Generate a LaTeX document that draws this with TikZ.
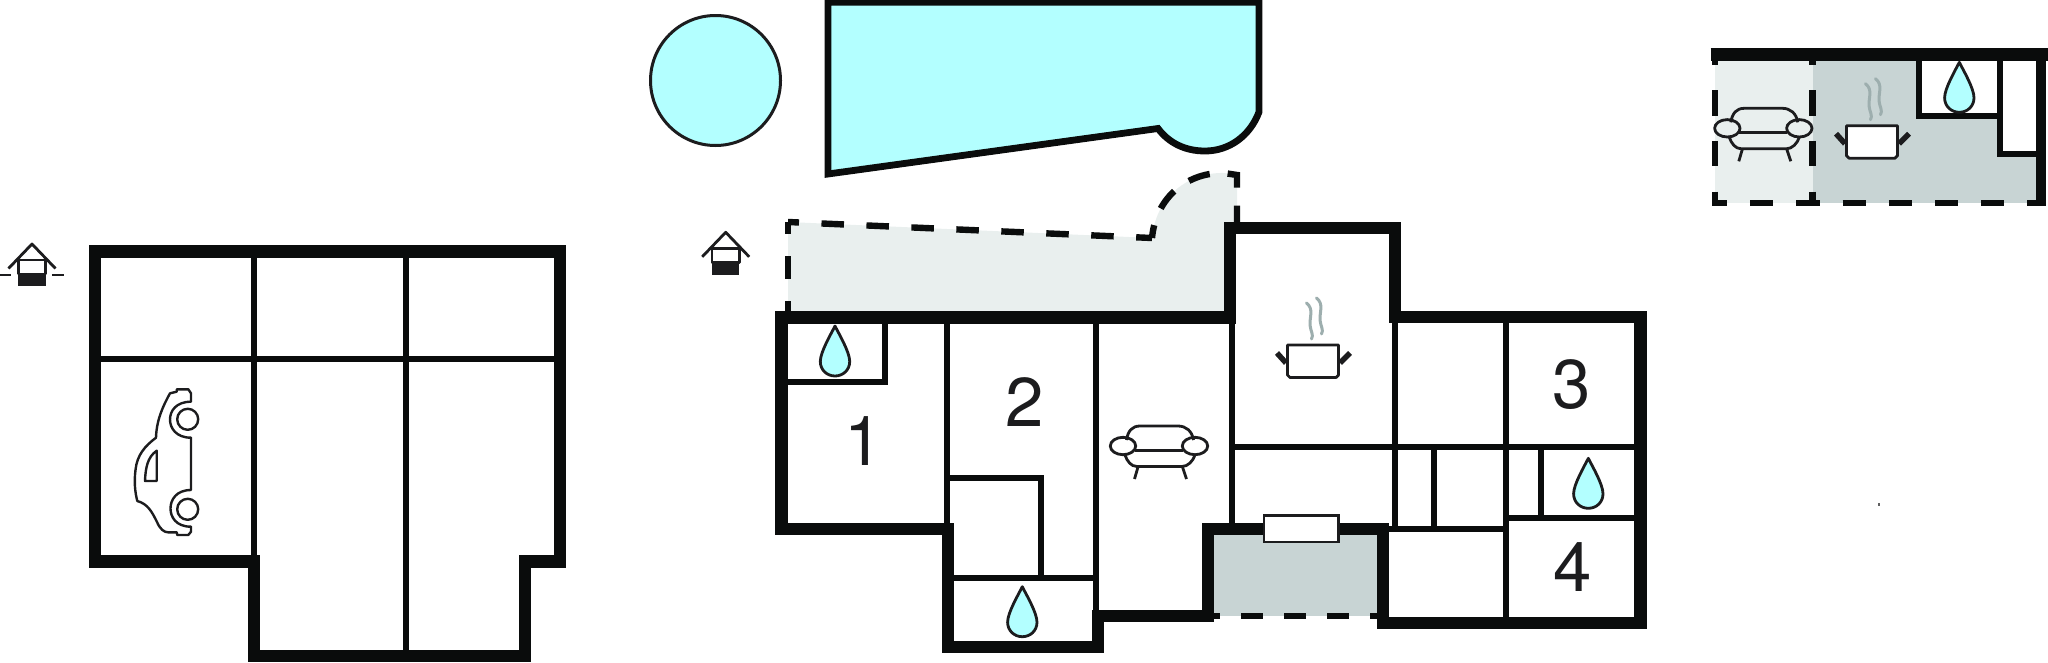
\documentclass[tikz,border=0pt]{standalone}
\usepackage{fontspec}
\setmainfont{TeX Gyre Heros}

\definecolor{inkblack}{HTML}{0A0C0C}
\definecolor{iconblack}{HTML}{1C1C1E}
\definecolor{poolblue}{HTML}{B3FFFF}
\definecolor{terracegrey}{HTML}{E9EFEE}
\definecolor{patiogrey}{HTML}{C8D4D4}
\definecolor{steamgrey}{HTML}{9DAEAE}

\tikzset{
	thickwall/.style={draw=inkblack,line width=12.4pt,miter limit=10},
	thinwall/.style={draw=inkblack,line width=6pt},
	openwall/.style={draw=inkblack,line width=6.4pt,dash pattern=on 22.5pt off 22.5pt},
	iconline/.style={draw=iconblack,line width=2.8pt,line join=round},
	roomnumber/.style={inner sep=0pt,text=iconblack,font=\fontsize{69}{69}\selectfont},
	waterdrop/.pic={
		\filldraw[iconline,fill=poolblue]
		(0,0) .. controls (4,8) and (14.7,26) .. (14.7,35.5)
		.. controls (14.7,44) and (8,50) .. (0,50)
		.. controls (-8,50) and (-14.7,44) .. (-14.7,35.5)
		.. controls (-14.7,26) and (-4,8) .. (0,0) -- cycle;
	},
	sofa/.pic={
		\draw[iconline] (-32.5,-6) .. controls (-31,-15) and (-27,-20) .. (-19,-20)
		-- (19,-20) .. controls (27,-20) and (33,-15) .. (34.5,-6);
		\draw[iconline] (-34,9) .. controls (-32,15) and (-28,20.5) .. (-22,20.5)
		-- (23,20.5) .. controls (29,20.5) and (34,15) .. (36,9);
		\draw[iconline] (-24,4.5) -- (24,4.5);
		\draw[iconline] (-21,21) -- (-24.5,33);
		\draw[iconline] (23.5,21) -- (27.5,33);
		\draw[iconline] (-36,0) circle [x radius=12.7pt,y radius=8.7pt];
		\draw[iconline] (36,0) circle [x radius=12.7pt,y radius=8.7pt];
	},
	cookpot/.pic={
		\draw[iconblack,line width=5.5pt] (-27,2) -- (-36,-8);
		\draw[iconblack,line width=5.5pt] (27,2) -- (37,-8);
		\filldraw[iconline,fill=white] (-25.5,-16) -- (25.5,-16) -- (25.5,14)
		-- (23,16.5) -- (-23,16.5) -- (-25.5,14) -- cycle;
		\draw[steamgrey,line width=3pt,line cap=round]
		(-6.5,-58) .. controls (1,-52) and (-3.5,-44) .. (-3,-36)
		.. controls (-2.5,-30) and (1,-26) .. (-1.5,-22);
		\draw[steamgrey,line width=3pt,line cap=round]
		(3.5,-63) .. controls (11,-57) and (6.5,-49) .. (7,-41)
		.. controls (7.5,-35) and (11,-31) .. (8.5,-27);
	},
	housesign/.pic={
		\filldraw[iconline,fill=white] (-13.7,16) rectangle (13.7,30);
		\fill[iconblack] (-13.7,29.5) rectangle (13.7,42.3);
		\draw[iconline] (-23.5,24.5) -- (0,0) -- (23.5,24.5);
	}
}

\begin{document}
\begin{tikzpicture}[x=1pt,y=-1pt]
	\useasboundingbox (0,0) rectangle (2048,662);

	\path
	coordinate (signa) at (32,244)
	coordinate (signb) at (725.7,232.3)
	coordinate (garA) at (94.7,251.5)
	coordinate (garB) at (559.8,251.5)
	coordinate (garC) at (559.8,561.3)
	coordinate (garD) at (525,561.3)
	coordinate (garE) at (525,655.9)
	coordinate (garF) at (254.2,655.9)
	coordinate (garG) at (254.2,561.3)
	coordinate (garH) at (94.7,561.3)
	;

	\def\regionTerrace{
		(788,222) -- (1152,238)
		.. controls (1156,195) and (1190,172) .. (1224,173)
		-- (1237,175) -- (1237,222) -- (1230,222) -- (1230,317) -- (788,317) -- cycle;
	}
	\def\regionPool{
		(828,2.3) -- (1259,2.3) -- (1259,112)
		.. controls (1250,136) and (1229,151) .. (1205,151)
		.. controls (1185,151) and (1169,143) .. (1158,128.5)
		-- (828,174) -- cycle;
	}

	% pools
	\filldraw[fill=poolblue,draw=iconblack,line width=3pt] (715.5,80.5) circle (65pt);
	\filldraw[fill=poolblue,draw=inkblack,line width=6.8pt,miter limit=10] \regionPool

	% terrace and patio
	\fill[terracegrey] \regionTerrace
	\fill[patiogrey] (1214,529) rectangle (1377,616);
	\draw[openwall,dash phase=11.5pt] (788,222) -- (1152,238);
	\draw[openwall,dash phase=11pt] (788,222) -- (788,317);
	\draw[openwall,dash pattern=on 22pt off 18pt,dash phase=9pt]
	(1152,238) .. controls (1156,195) and (1190,172) .. (1224,173)
	-- (1237,175) -- (1237,222);
	\draw[openwall,dash pattern=on 22pt off 21pt,dash phase=10pt] (1208,616) -- (1383,616);

	% garage
	\draw[thinwall] (254.2,251.5) -- (254.2,561.3);
	\draw[thinwall] (406.2,251.5) -- (406.2,655.9);
	\draw[thinwall] (94.7,358.5) -- (559.8,358.5);
	\draw[thickwall] (garA) -- (garB) -- (garC) -- (garD) -- (garE) -- (garF) -- (garG) -- (garH) -- cycle;

	% house, inner walls
	\draw[thinwall] (885,317) -- (885,381.7) -- (781,381.7);
	\draw[thinwall] (947,317) -- (947,529);
	\draw[thinwall] (1096.3,317) -- (1096.3,616);
	\draw[thinwall] (947,477.7) -- (1041,477.7) -- (1041,577);
	\draw[thinwall] (948,577.7) -- (1096.3,577.7);
	\draw[thinwall] (1232,317) -- (1232,529);
	\draw[thinwall] (1232,447.3) -- (1640,447.3);
	\draw[thinwall] (1395,317) -- (1395,529);
	\draw[thinwall] (1506,317) -- (1506,622);
	\draw[thinwall] (1383,529) -- (1506,529);
	\draw[thinwall] (1434,447.3) -- (1434,529);
	\draw[thinwall] (1541,447.3) -- (1541,518.3);
	\draw[thinwall] (1506,518.3) -- (1640,518.3);

	% house, outer walls
	\draw[thickwall]
	(781.5,317.5) -- (781.5,529) -- (948,529) -- (948,647) -- (1098,647)
	-- (1098,616) -- (1208,616) -- (1208,529) -- (1383,529) -- (1383,622.7)
	-- (1640.5,622.7) -- (1640.5,317) -- (1395,317) -- (1395,228) -- (1230,228)
	-- (1230,317.5) -- cycle;
	\filldraw[draw=iconblack,fill=white,line width=2.4pt] (1264,515.3) rectangle (1338.3,541.7);

	% upper floor
	\fill[terracegrey] (1715,54) rectangle (1812.5,203);
	\fill[patiogrey] (1812.5,54) rectangle (2040,203);
	\fill[white] (1918.7,54) rectangle (1999.7,115.5);
	\fill[white] (1999.7,54) rectangle (2040,153.7);
	\draw[thinwall] (1918.7,54) -- (1918.7,115.5) -- (1999.7,115.5);
	\draw[thinwall] (1999.7,54) -- (1999.7,153.7) -- (2040,153.7);
	\draw[openwall,dash pattern=on 25.3pt off 25.3pt,dash phase=20.3pt] (1715,60) -- (1715,206);
	\draw[openwall,dash pattern=on 25.3pt off 25.3pt,dash phase=20.3pt] (1812.5,60) -- (1812.5,206);
	\draw[openwall,dash pattern=on 23.1pt off 23.1pt,dash phase=8pt] (1712,203) -- (2045,203);
	\draw[thickwall,line width=10pt] (2040.5,54.5) -- (2040.5,206);
	\draw[thickwall] (1710.7,54.5) -- (2048,54.5);

	% car
	\draw[iconline,line width=2.4pt]
	(191,401.7) -- (191,393.3) -- (188.3,389.3) -- (176.7,389.3) -- (176.7,391.7) -- (170,393.3)
	.. controls (163,406) and (156.5,420) .. (156,437.7)
	.. controls (145,446) and (137,455) .. (135.5,470)
	.. controls (134,482) and (135,492) .. (137.3,501)
	.. controls (148,504) and (152,512) .. (157,522)
	.. controls (160,529) and (164,532.3) .. (168,532.3)
	-- (176.7,532.3) -- (177.3,535) -- (188.3,535) -- (191,531.7) -- (191,526.7)
	.. controls (176,526.7) and (170.5,517) .. (170.5,508.5)
	.. controls (170.5,500) and (176,490) .. (191,490)
	-- (191,437.7)
	.. controls (176,437.7) and (170,428) .. (170,419.5)
	.. controls (170,411) and (176,401.7) .. (191,401.7) -- cycle;
	\draw[iconline,line width=2.4pt] (156.7,450.7) -- (156.7,481) -- (145,481)
	.. controls (145.5,468) and (147.5,457) .. (156.7,450.7) -- cycle;
	\draw[iconline,line width=2.4pt] (187.7,419.3) circle (10.5pt);
	\draw[iconline,line width=2.4pt] (187.7,509.3) circle (10.5pt);

	% signs
	\pic at (signa) {housesign};
	\draw[iconline] (0,275) -- (11,275);
	\draw[iconline] (51.8,275) -- (64,275);
	\pic at (signb) {housesign};

	\pic at (835,326) {waterdrop};
	\pic at (1022.3,586.7) {waterdrop};
	\pic at (1588.3,458.3) {waterdrop};
	\pic at (1959.3,62.3) {waterdrop};

	\pic at (1159,446) {sofa};
	\pic at (1763.3,128.3) {sofa};

	\pic at (1313,361) {cookpot};
	\pic at (1872,141.7) {cookpot};

	\node[roomnumber] (num1) at (864,440.7) {1};
	\node[roomnumber] (num2) at (1025,402) {2};
	\node[roomnumber] (num3) at (1571.7,385) {3};
	\node[roomnumber] (num4) at (1572.7,566.7) {4};

	% speck
	\fill[iconblack!70] (1878,503) rectangle (1880,506);

\end{tikzpicture}
\end{document}
